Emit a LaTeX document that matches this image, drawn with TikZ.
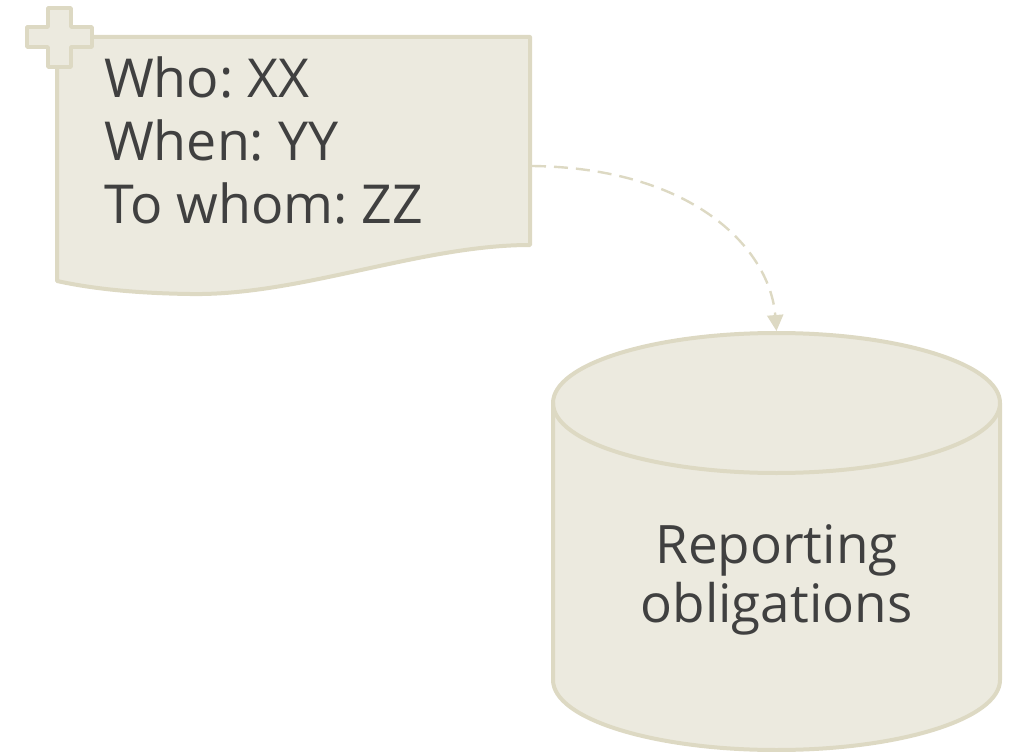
\documentclass[tikz,border=0pt]{standalone}
\usepackage{fontspec}
\setmainfont{Open Sans}
\frenchspacing
\usetikzlibrary{arrows.meta}
\definecolor{fillc}{HTML}{ECEADF}
\definecolor{strokec}{HTML}{DDD9C3}
\definecolor{textc}{HTML}{404040}
\begin{document}
\begin{tikzpicture}[x=1pt,y=-1pt,
  shapeline/.style={draw=strokec,fill=fillc,line width=4pt,line join=round},
  lbl/.style={text=textc,inner sep=0pt},
  conn/.style={draw=strokec,line width=2.4pt,dash pattern=on 14pt off 8pt,
    -{Triangle[length=16pt,width=16pt]}}]
\useasboundingbox (0,0) rectangle (1021,752);
% document shape
\draw[shapeline] (57,37) -- (530,37) -- (530,245)
  .. controls (420,245) and (300,296) .. (190,294)
  .. controls (120,293) and (80,286) .. (57,281) -- cycle;
% plus sign
\draw[shapeline,line width=3.5pt] (48,8) -- (71,8) -- (71,27) -- (92,27) -- (92,47) -- (71,47) -- (71,67)
  -- (48,67) -- (48,47) -- (27,47) -- (27,27) -- (48,27) -- cycle;
\node[lbl,font=\fontsize{53.7}{63}\selectfont,anchor=north west,align=left] (doc) at (104,56) {Who: XX\\When: YY\\To whom: ZZ};
\coordinate (docout) at (532,166);
% cylinder
\draw[shapeline] (553,403) -- (553,680) arc[start angle=180,end angle=0,x radius=223.5,y radius=70]
  -- (1000,403) arc[start angle=0,end angle=-180,x radius=223.5,y radius=70] -- cycle;
\draw[draw=strokec,line width=4pt] (553,403) arc[start angle=180,end angle=0,x radius=223.5,y radius=70];
\coordinate (cyltop) at (776.5,331);
\node[lbl,font=\fontsize{53}{59}\selectfont,align=center] (cyl) at (776.5,580) {Reporting\\obligations};
\draw[conn] (docout) .. controls (695,168) and (770,250) .. (cyltop);
\end{tikzpicture}
\end{document}
